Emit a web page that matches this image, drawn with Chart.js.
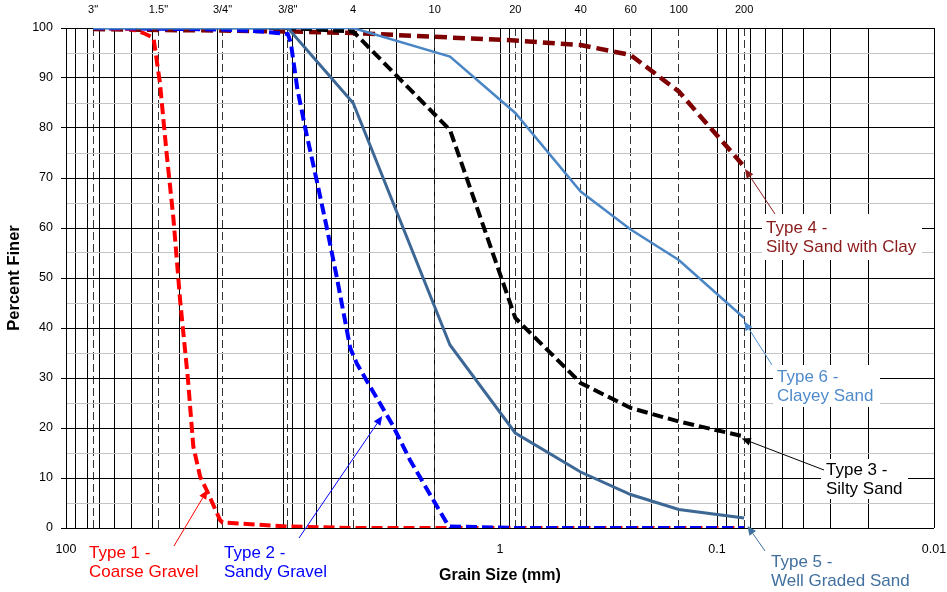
<!DOCTYPE html>
<html><head><meta charset="utf-8">
<script src="https://cdn.jsdelivr.net/npm/chart.js@4.4.1/dist/chart.umd.min.js"></script>
<style>html,body{margin:0;padding:0;background:#fff;}#wrap{width:947px;height:592px;}</style>
</head><body><div id="wrap"><canvas id="c" width="947" height="592"></canvas></div>
<script>
// ---- axis / tick data ----
const gridSizes = [0.01,0.02,0.03,0.04,0.05,0.06,0.07,0.08,0.09,
  0.1,0.2,0.3,0.4,0.5,0.6,0.7,0.8,0.9,
  1,2,3,4,5,6,7,8,9,
  10,20,30,40,50,60,70,80,90,100];
const decadeValues = [0.01,0.1,1,100];
const decadeLabels = ['0.01','0.1','1','100'];
const sieveSizes = [0.075,0.15,0.25,0.425,0.85,2,4.75,9.5,19,37.5,75];
const sieveLabels = ['200','100','60','40','20','10','4','3/8"','3/4"','1.5"','3"'];
const yTicks = [0,5,10,15,20,25,30,35,40,45,50,55,60,65,70,75,80,85,90,95,100];

// ---- series ----
const type1Sizes = [75,50,44,39.5,36.9,34.4,32,29.8,27.4,25.9,24.1,22.5,19.5,19,9.5,4.75,1.7,0.85,0.425,0.25,0.15,0.075];
const type1Finer = [100,99.8,99,98,89,75,62,45.6,29.6,16.3,10.3,7.6,1.6,1.1,0.3,0,0,0,0,0,0,0];

const type2Sizes = [75,19,12.5,9.5,9.2,8.6,7.9,7,6.3,5.66,4.9,4.57,3.97,3.57,3.1,2.6,2.03,1.76,1.7,0.85,0.425,0.25,0.15,0.075];
const type2Finer = [100,99.7,99.3,98.8,97,88,80,69.6,60.3,50.3,36,32.9,28.3,24.9,20.3,13.6,5.6,1,0.3,0,0,0,0,0];

const type3Sizes = [75,9.5,4.75,1.7,0.85,0.425,0.25,0.15,0.075];
const type3Finer = [100,100,99.3,79.6,42,29,24,21.3,18.3];

const type4Sizes = [75,37.5,19,9.5,4.75,1.7,0.85,0.425,0.25,0.15,0.075];
const type4Finer = [99.8,99.6,99.5,99.3,99,98.1,97.5,96.6,94.6,87.3,72.3];

const type5Sizes = [75,37.5,19,9.5,4.75,1.7,0.85,0.425,0.25,0.15,0.075];
const type5Finer = [100,100,100,100,85,36.6,19,11.2,6.7,3.7,2];

const type6Sizes = [75,9.5,4.75,1.7,0.85,0.425,0.25,0.15,0.075];
const type6Finer = [100,100,100,94.3,83,67.3,59.7,53.6,42];

const pts = (s, f) => s.map((v, i) => ({x: v, y: f[i]}));

const FONT = "'Liberation Sans', Arial, Helvetica, sans-serif";
Chart.defaults.font.family = FONT;
Chart.defaults.color = '#000';

const annotations = [
  {lines:['Type 1 -','Coarse Gravel'], color:'#FF0000', tx:89, ty:553, tail:[174,546], tip:[22.3,7.6]},
  {lines:['Type 2 -','Sandy Gravel'], color:'#0000FF', tx:224, ty:553, tail:[299,538], tip:[3.49,22.4]},
  {lines:['Type 3 -','Silty Sand'], color:'#000000', tx:826, ty:470, tail:[824,470], tip:[0.0769,17.9], box:[821,459,87,40]},
  {lines:['Type 4 -','Silty Sand with Clay'], color:'#8B1A1A', tx:766, ty:228, tail:[775,214], tip:[0.0743,71.8], box:[762,214,160,46]},
  {lines:['Type 6 -','Clayey Sand'], color:'#4F8BCB', tx:777, ty:377, tail:[772,365], tip:[0.0749,41.3], box:[773,365,107,42]},
  {lines:['Type 5 -','Well Graded Sand'], color:'#41709F', tx:771, ty:562, tail:[765,551], tip:[0.0723,0.4]}
];

const annotPlugin = {
  id: 'annot',
  afterDatasetsDraw(chart) {
    const ctx = chart.ctx, xs = chart.scales.x, ys = chart.scales.y;
    ctx.save();
    annotations.forEach(a => {
      if (a.box) { ctx.fillStyle = '#fff'; ctx.fillRect(a.box[0], a.box[1], a.box[2], a.box[3]); }
    });
    annotations.forEach(a => {
      ctx.fillStyle = a.color;
      ctx.font = "17px " + FONT;
      ctx.textBaseline = 'middle';
      ctx.textAlign = 'left';
      a.lines.forEach((t, i) => ctx.fillText(t, a.tx, a.ty + i * 19.5));
      const x1 = a.tail[0], y1 = a.tail[1];
      const x2 = xs.getPixelForValue(a.tip[0]), y2 = ys.getPixelForValue(a.tip[1]);
      const ang = Math.atan2(y2 - y1, x2 - x1);
      const L = 9, W = 4;
      const bx = x2 - L * Math.cos(ang), by = y2 - L * Math.sin(ang);
      ctx.strokeStyle = a.color; ctx.lineWidth = 1;
      ctx.beginPath(); ctx.moveTo(x1, y1); ctx.lineTo(bx, by); ctx.stroke();
      ctx.beginPath();
      ctx.moveTo(x2, y2);
      ctx.lineTo(bx + W * Math.sin(ang), by - W * Math.cos(ang));
      ctx.lineTo(bx - W * Math.sin(ang), by + W * Math.cos(ang));
      ctx.closePath(); ctx.fill();
    });
    ctx.restore();
  }
};

const mk = (label, s, f, color, w, dash) => ({
  label, data: pts(s, f), borderColor: color, backgroundColor: color, borderWidth: w,
  borderDash: dash, pointRadius: 0, fill: false, tension: 0, xAxisID: 'x', yAxisID: 'y'
});

new Chart(document.getElementById('c'), {
  type: 'line',
  data: {
    datasets: [
      mk('Type 6 - Clayey Sand', type6Sizes, type6Finer, '#4A86C5', 2.5, []),
      mk('Type 5 - Well Graded Sand', type5Sizes, type5Finer, '#3D6895', 3, []),
      mk('Type 2 - Sandy Gravel', type2Sizes, type2Finer, '#0000FF', 4, [11, 5]),
      mk('Type 1 - Coarse Gravel', type1Sizes, type1Finer, '#FF0000', 4, [11, 5]),
      mk('Type 3 - Silty Sand', type3Sizes, type3Finer, '#000000', 4, [11, 5]),
      mk('Type 4 - Silty Sand with Clay', type4Sizes, type4Finer, '#7F0000', 4.5, [12, 6])
    ]
  },
  options: {
    responsive: false, animation: false, devicePixelRatio: 1,
    layout: {padding: {left: 0, right: 13, top: 0, bottom: 0}},
    plugins: {legend: {display: false}, tooltip: {enabled: false}},
    scales: {
      x: {
        type: 'logarithmic', reverse: true, min: 0.01, max: 100, position: 'bottom',
        afterBuildTicks: s => { s.ticks = gridSizes.map(v => ({value: v})); },
        afterFit: s => { s.height = 64; },
        grid: {color: '#000', lineWidth: 1, drawTicks: false},
        border: {display: false},
        ticks: {autoSkip: false, maxRotation: 0, minRotation: 0, padding: 14, color: '#000', font: {size: 12.5},
          callback: v => { const i = decadeValues.indexOf(v); return i >= 0 ? decadeLabels[i] : ''; }},
        title: {display: true, text: 'Grain Size (mm)', color: '#000', font: {size: 16, weight: 'bold'}, padding: {top: 0, bottom: 7}}
      },
      x2: {
        type: 'logarithmic', reverse: true, min: 0.01, max: 100, position: 'top',
        afterBuildTicks: s => { s.ticks = sieveSizes.map(v => ({value: v})); },
        afterFit: s => { s.height = 28; },
        grid: {color: '#333333', lineWidth: 1, drawTicks: false},
        border: {display: false, dash: [8, 4]},
        ticks: {autoSkip: false, maxRotation: 0, minRotation: 0, padding: 11, color: '#000', font: {size: 11},
          callback: (v, i) => sieveLabels[i]}
      },
      y: {
        min: 0, max: 100, position: 'left',
        afterBuildTicks: s => { s.ticks = yTicks.map(v => ({value: v})); },
        afterFit: s => { s.width = 66; },
        grid: {
          color: c => (c.tick && c.tick.value % 10 !== 0) ? '#C4C4C4' : '#000',
          tickColor: c => (c.tick && c.tick.value % 10 !== 0) ? 'rgba(0,0,0,0)' : '#000',
          tickLength: 5, drawTicks: true, lineWidth: 1
        },
        border: {display: true, color: '#000'},
        ticks: {autoSkip: false, padding: 8, color: '#000', font: {size: 12.5},
          callback: v => (v % 10 === 0 ? String(v) : '')},
        title: {display: true, text: 'Percent Finer', color: '#000', font: {size: 16.5, weight: 'bold'}, padding: {top: 5, bottom: 0}}
      }
    }
  },
  plugins: [annotPlugin]
});
</script>
</body></html>
